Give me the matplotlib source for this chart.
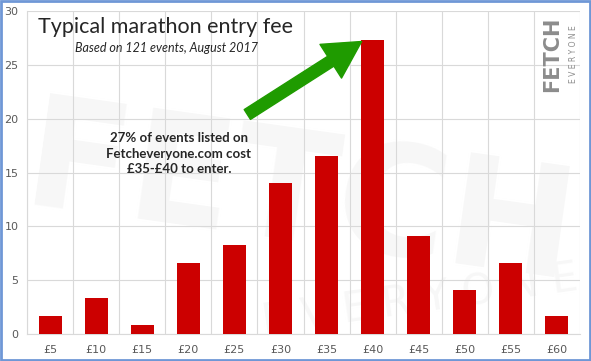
import matplotlib
matplotlib.use("Agg")
import matplotlib.pyplot as plt
from matplotlib.patches import FancyArrowPatch, Rectangle
import numpy as np

categories = ["£5", "£10", "£15", "£20", "£25", "£30", "£35", "£40", "£45", "£50", "£55", "£60"]
values = [1.65, 3.31, 0.83, 6.61, 8.26, 14.05, 16.53, 27.27, 9.09, 4.13, 6.61, 1.65]
yticks = [0, 5, 10, 15, 20, 25, 30]

W, H = 591, 361
fig = plt.figure(figsize=(W / 100, H / 100), dpi=100)
fig.patch.set_facecolor("white")

def fx(px):
    return px / W

def fy(py):
    return 1 - py / H

# Background watermark axes (very faint)
bg = fig.add_axes([0, 0, 1, 1], zorder=-5)
bg.axis("off")
bg.set_xlim(0, 1)
bg.set_ylim(0, 1)
bg.text(fx(300), fy(200), "FETCH", fontsize=110, fontweight="bold", color="#f7f7f7",
        rotation=-8, ha="center", va="center", family="DejaVu Sans")
bg.text(fx(420), fy(300), "E V E R Y O N E", fontsize=30, color="#f7f7f7",
        rotation=8, ha="center", va="center")

# axes: left 27, right 580, top 11, bottom 334 (px)
ax = fig.add_axes([fx(27), fy(334), fx(580 - 27), (334 - 11) / H], zorder=1)
x = np.arange(len(categories))
ax.bar(x, values, width=0.5, color="#cc0000", zorder=3)
ax.set_xlim(-0.5, len(categories) - 0.5)
ax.set_ylim(0, 30)
ax.set_yticks(yticks)
ax.set_yticklabels([str(v) for v in yticks])
ax.set_xticks(x)
ax.set_xticklabels(categories)
ax.set_xticks(np.arange(-0.5, len(categories), 1), minor=True)
ax.grid(True, which="minor", axis="x", color="#d9d9d9", linewidth=0.8, zorder=0)
ax.grid(True, which="major", axis="y", color="#d9d9d9", linewidth=0.8, zorder=0)
ax.tick_params(axis="both", which="both", length=0, colors="#595959", labelsize=8)
ax.tick_params(axis="x", pad=8)
ax.tick_params(axis="y", pad=6)
for s in ["top", "right"]:
    ax.spines[s].set_visible(False)
ax.spines["left"].set_color("#d9d9d9")
ax.spines["bottom"].set_color("#d9d9d9")
ax.spines["left"].set_linewidth(0.8)
ax.spines["bottom"].set_linewidth(0.8)
ax.set_facecolor("none")

# Title
fig.text(fx(38), fy(27), "Typical marathon entry fee", fontsize=15.5, color="#262626",
         family="Lato", ha="left", va="center")
fig.text(fx(75), fy(48), "Based on 121 events, August 2017", fontsize=9, color="#262626",
         family="Lato", style="italic", ha="left", va="center")

# Logo
fig.text(fx(552), fy(54), "FETCH", fontsize=15, fontweight="heavy", color="#8c8c8c",
         rotation=90, ha="center", va="center", family="DejaVu Sans")
fig.text(fx(574), fy(54), "E V E R Y O N E", fontsize=5.5, color="#8c8c8c",
         rotation=90, ha="center", va="center")

# Annotation text
fig.text(fx(179), fy(154), "27% of events listed on\nFetcheveryone.com cost\n£35-£40 to enter.",
         fontsize=9.5, color="#262626", family="Lato", fontweight="bold",
         ha="center", va="center", linespacing=1.35)

# Arrow
arr = FancyArrowPatch((fx(245), fy(116)), (fx(364), fy(40)), transform=fig.transFigure,
                      arrowstyle="simple,head_length=2.2,head_width=2.4,tail_width=0.7",
                      mutation_scale=12, color="#1f9b00", zorder=10)
fig.patches.append(arr)

# Border
fig.patches.append(Rectangle((0.0015, 0.0025), 0.997, 0.995, transform=fig.transFigure,
                             fill=False, edgecolor="#6f97d6", linewidth=2, zorder=20))

fig.savefig("out.png", dpi=100)
